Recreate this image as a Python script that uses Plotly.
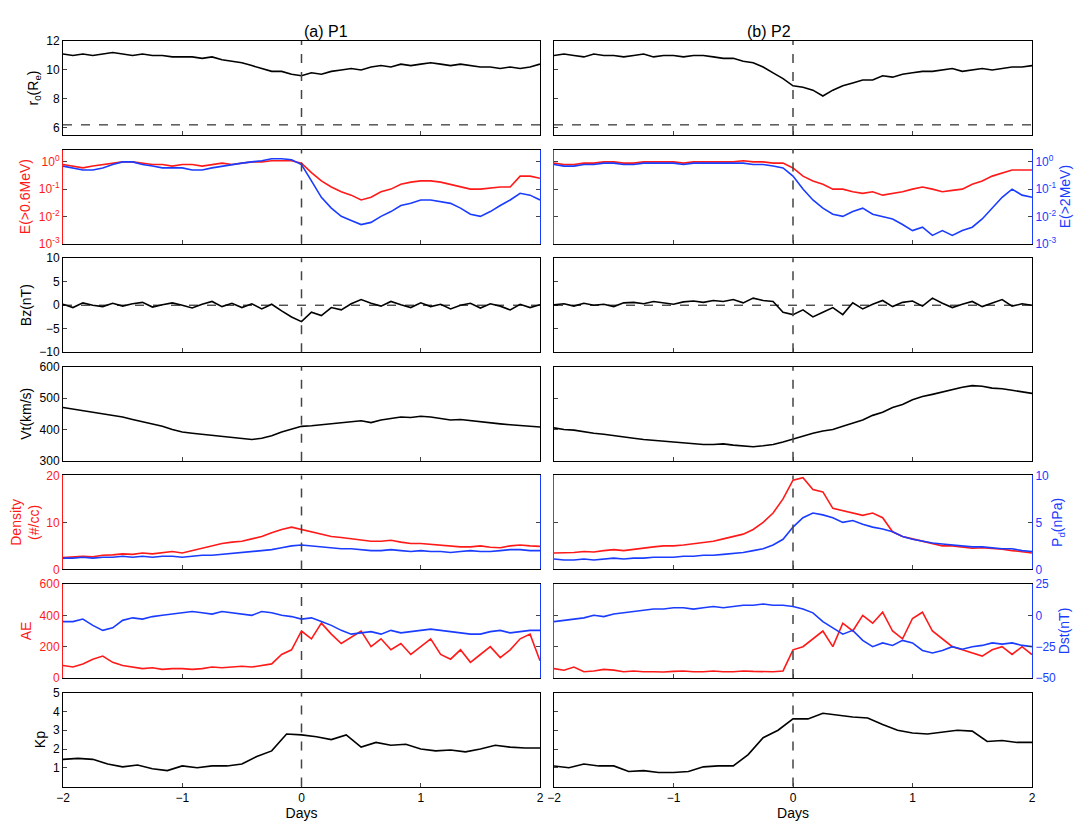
import numpy as np
import plotly.graph_objects as go

# values, step 1/12 day from -2 to 2 (Kp: 3-hourly)
r0_p1 = [11.1,11.0,11.1,11.0,11.1,11.2,11.1,11.0,11.1,11.0,11.0,10.9,10.9,10.9,10.8,10.9,10.7,10.6,10.5,10.3,10.1,9.9,9.9,9.7,9.6,9.8,9.7,9.9,10.0,10.1,10.0,10.2,10.3,10.2,10.4,10.3,10.4,10.5,10.4,10.3,10.4,10.3,10.2,10.2,10.1,10.2,10.1,10.2,10.4]
r0_p2 = [11.0,11.1,11.0,10.9,11.1,11.0,11.0,10.9,11.0,11.1,10.9,11.0,11.0,10.9,11.0,11.0,10.9,10.8,10.8,10.6,10.5,10.2,9.8,9.4,8.9,8.8,8.6,8.2,8.6,8.9,9.1,9.3,9.3,9.6,9.5,9.7,9.8,9.9,9.9,10.0,10.1,9.9,10.0,10.1,10.0,10.1,10.2,10.2,10.3]
e06_p1 = [0.8,0.7,0.6,0.7,0.8,0.9,1.0,1.0,0.9,0.8,0.8,0.7,0.8,0.8,0.7,0.8,0.9,0.8,0.9,1.0,1.0,1.1,1.1,1.1,0.9,0.4,0.2,0.12,0.08,0.06,0.04,0.05,0.08,0.1,0.15,0.18,0.2,0.2,0.18,0.15,0.12,0.1,0.1,0.11,0.12,0.12,0.3,0.3,0.25]
e2_p1 = [0.7,0.6,0.5,0.5,0.6,0.8,1.0,1.0,0.8,0.7,0.6,0.6,0.6,0.5,0.5,0.6,0.7,0.8,0.9,1.0,1.1,1.3,1.3,1.2,0.8,0.2,0.05,0.02,0.01,0.007,0.005,0.006,0.01,0.015,0.025,0.03,0.04,0.04,0.035,0.03,0.02,0.012,0.01,0.015,0.025,0.04,0.07,0.06,0.04]
e06_p2 = [0.9,0.8,0.8,0.9,0.9,1.0,1.0,0.9,0.9,1.0,1.0,1.0,1.0,0.9,1.0,1.0,1.0,1.0,1.0,1.1,1.0,1.0,0.9,0.9,0.6,0.3,0.2,0.15,0.1,0.1,0.08,0.07,0.08,0.06,0.07,0.08,0.1,0.12,0.1,0.08,0.09,0.1,0.15,0.2,0.3,0.4,0.5,0.5,0.5]
e2_p2 = [0.8,0.7,0.7,0.8,0.8,0.9,0.9,0.8,0.8,0.9,0.9,0.9,0.9,0.8,0.9,0.9,0.9,0.9,0.9,0.9,0.8,0.8,0.7,0.6,0.3,0.1,0.04,0.02,0.012,0.01,0.015,0.02,0.012,0.01,0.008,0.005,0.003,0.004,0.002,0.003,0.002,0.003,0.004,0.008,0.02,0.05,0.1,0.06,0.05]
bz_p1 = [0.2,-0.5,0.5,0,-0.3,0.4,-0.2,0.3,0.6,-0.4,0.1,0.5,0,-0.6,0.2,0.8,-0.3,0.4,-0.5,0.3,-0.8,0.2,-1.2,-2.5,-3.5,-1.5,-2.2,-0.5,-1.0,0.3,1.2,0.4,-0.2,0.8,0.1,-0.5,0.5,-0.3,0.2,-0.8,0.0,0.4,-0.6,0.3,-0.2,-1.0,0.2,-0.5,0.1]
bz_p2 = [0.1,0.3,-0.2,0.4,0.0,0.2,-0.3,0.5,0.6,0.3,0.8,0.5,0.2,0.7,0.9,0.6,1.0,0.8,1.2,0.5,1.5,1.0,0.8,-1.5,-2.0,-1.0,-2.5,-1.5,-0.5,-2.0,0.5,-0.8,0.2,1.0,-0.3,0.6,0.9,-0.2,1.5,0.4,-0.5,0.2,0.8,-0.3,0.5,1.2,-0.2,0.3,0.0]
vt_p1 = [470,465,462,455,450,445,440,432,425,418,410,400,392,388,385,380,378,376,372,368,372,380,392,402,410,412,415,418,420,425,428,422,430,435,440,438,442,440,435,430,432,428,425,420,418,415,412,410,408]
vt_p2 = [405,400,398,392,388,385,380,375,372,368,365,362,360,358,355,352,352,354,350,348,345,348,352,360,370,380,388,395,400,410,420,430,445,455,470,480,495,505,512,520,528,535,540,538,532,530,525,520,515]
dens_p1 = [2.5,2.6,2.8,2.7,3.0,3.1,3.3,3.2,3.5,3.3,3.6,3.8,3.5,4.0,4.5,5.0,5.5,5.8,6.0,6.5,7.0,7.8,8.5,9.0,8.5,8.0,7.5,7.0,6.8,6.5,6.2,6.0,6.0,6.2,5.8,5.5,5.5,5.3,5.2,5.0,4.8,4.8,5.0,4.7,4.6,5.0,5.2,5.0,4.9]
pd_p1 = [1.2,1.2,1.3,1.2,1.3,1.3,1.4,1.3,1.4,1.3,1.4,1.4,1.3,1.4,1.5,1.5,1.6,1.7,1.8,1.9,2.0,2.1,2.3,2.5,2.6,2.5,2.4,2.3,2.2,2.2,2.1,2.0,2.0,2.1,2.0,1.9,2.0,1.9,1.9,1.8,1.9,2.0,1.9,1.9,2.0,2.1,2.1,2.0,2.0]
dens_p2 = [3.5,3.5,3.6,3.8,3.7,4.0,4.2,4.0,4.3,4.5,4.8,5.0,5.0,5.2,5.5,5.8,6.0,6.5,7.0,7.5,8.5,10.0,12.0,15.0,19.0,19.5,17.0,16.5,13.0,12.5,12.0,11.5,12.0,11.0,8.0,7.0,6.5,6.0,5.5,5.0,5.0,4.8,4.5,4.6,4.5,4.3,4.0,3.8,3.5]
pd_p2 = [1.1,1.0,1.0,1.1,1.0,1.1,1.2,1.1,1.2,1.2,1.3,1.3,1.3,1.4,1.4,1.5,1.5,1.6,1.7,1.8,2.0,2.2,2.6,3.2,4.5,5.5,6.0,5.8,5.5,5.0,5.2,4.8,4.5,4.3,4.0,3.5,3.2,3.0,2.8,2.7,2.6,2.5,2.4,2.4,2.3,2.2,2.2,2.0,1.9]
ae_p1 = [80,70,90,120,140,100,80,70,60,65,55,60,60,55,60,70,65,70,75,70,80,90,150,180,300,250,350,280,220,260,300,200,250,180,220,150,200,250,150,120,180,100,150,200,130,180,250,280,110]
dst_p1 = [-5,-5,-3,-8,-12,-10,-4,-2,-3,-1,0,1,2,3,2,1,3,2,1,0,3,2,0,-1,-3,-2,-5,-8,-12,-15,-14,-13,-15,-12,-14,-13,-12,-11,-12,-13,-14,-15,-15,-13,-12,-14,-13,-12,-12]
ae_p2 = [60,50,70,40,45,55,50,40,45,40,40,38,42,45,40,40,45,40,40,45,42,40,40,45,180,200,250,300,200,350,300,400,350,420,300,250,380,420,300,250,200,180,160,140,180,200,150,200,150]
dst_p2 = [-5,-4,-3,-2,0,-1,1,2,3,4,5,5,6,6,5,6,7,6,7,8,8,9,8,8,7,5,2,-5,-10,-15,-12,-20,-25,-22,-24,-20,-22,-28,-30,-28,-25,-27,-25,-24,-22,-23,-22,-24,-25]
kp_p1 = [1.45,1.5,1.45,1.2,1.05,1.15,0.95,0.85,1.1,1.0,1.1,1.1,1.2,1.6,1.9,2.8,2.75,2.65,2.5,2.75,2.1,2.35,2.2,2.25,2.0,1.9,1.95,1.85,2.0,2.2,2.1,2.05,2.05]
kp_p2 = [1.1,1.0,1.2,1.1,1.1,0.8,0.85,0.75,0.75,0.8,1.05,1.1,1.1,1.7,2.6,3.0,3.6,3.6,3.9,3.8,3.7,3.65,3.3,3.0,2.85,2.8,2.9,3.0,2.95,2.4,2.45,2.35,2.35]

RED = "#ff1a1a"
BLUE = "#1a3cff"
W, H = 1089, 822
OFF = 7  # page body offset
cols_px = [(62 - OFF, 539 - OFF), (553 - OFF, 1031 - OFF)]
row_top = [33 + i * 108.6 for i in range(7)]
row_h = 94

def xs(v):
    return np.linspace(-2, 2, len(v))

def nm(k):
    return "" if k == 1 else str(k)

fig = go.Figure()
layout = dict(width=W, height=H, margin=dict(l=0, r=0, t=0, b=0, autoexpand=False),
              plot_bgcolor="white", paper_bgcolor="white", showlegend=False,
              font=dict(family="Liberation Sans, Arial", size=12, color="black"))
shapes = []
annotations = []

panels = [
    dict(l=(r0_p1, r0_p2), lc="black", ly=dict(range=[5.5, 12], tickvals=[6, 8, 10, 12]), lt="r<sub>0</sub>(R<sub>e</sub>)", hline=6.2),
    dict(l=(e06_p1, e06_p2), lc=RED, r=(e2_p1, e2_p2), rc=BLUE, log=True, lt="E(>0.6MeV)", rt="E(>2MeV)"),
    dict(l=(bz_p1, bz_p2), lc="black", ly=dict(range=[-10, 10], tickvals=[-10, -5, 0, 5, 10]), lt="Bz(nT)", hline=0),
    dict(l=(vt_p1, vt_p2), lc="black", ly=dict(range=[300, 600], tickvals=[300, 400, 500, 600]), lt="Vt(km/s)"),
    dict(l=(dens_p1, dens_p2), lc=RED, ly=dict(range=[0, 20], tickvals=[0, 10, 20]),
         r=(pd_p1, pd_p2), rc=BLUE, ry=dict(range=[0, 10], tickvals=[0, 5, 10]), lt="Density<br>(#/cc)", rt="P<sub>d</sub>(nPa)"),
    dict(l=(ae_p1, ae_p2), lc=RED, ly=dict(range=[0, 600], tickvals=[0, 200, 400, 600]),
         r=(dst_p1, dst_p2), rc=BLUE, ry=dict(range=[-50, 25], tickvals=[-50, -25, 0, 25]), lt="AE", rt="Dst(nT)"),
    dict(l=(kp_p1, kp_p2), lc="black", ly=dict(range=[0, 5], tickvals=[1, 2, 3, 4, 5]), lt="Kp"),
]

logcfg = dict(type="log", range=[-3, 0.45], tickvals=[1e-3, 1e-2, 1e-1, 1],
              ticktext=["10<sup>-3</sup>", "10<sup>-2</sup>", "10<sup>-1</sup>", "10<sup>0</sup>"])

sec = 15
for r, p in enumerate(panels):
    y1 = 1 - (row_top[r] + row_h) / H
    y0 = 1 - row_top[r] / H
    for c in range(2):
        k = r * 2 + c + 1
        n = nm(k)
        xd = [cols_px[c][0] / W, cols_px[c][1] / W]
        bottom = r == 6
        layout["xaxis" + n] = dict(domain=xd, anchor="y" + n, range=[-2, 2], showline=True, linecolor="black",
                                   mirror=True, ticks="inside", ticklen=4, tickvals=[-2, -1, 0, 1, 2],
                                   showticklabels=bottom, showgrid=False, zeroline=False, automargin=False,
                                   title=dict(text="Days", standoff=4) if bottom else None)
        has_r = "r" in p
        lcol = p["lc"]
        cfg = dict(logcfg) if p.get("log") else dict(p["ly"])
        cfg.update(domain=[y1, y0], anchor="x" + n, showline=True, linecolor=lcol,
                   mirror=False if has_r else True, ticks="inside", ticklen=4,
                   showticklabels=(c == 0), tickfont=dict(color=lcol), automargin=False,
                   showgrid=False, zeroline=False)
        if c == 0:
            cfg["title"] = dict(text=p["lt"], font=dict(color=lcol), standoff=4)
        layout["yaxis" + n] = cfg
        fig.add_trace(go.Scatter(x=xs(p["l"][c]), y=p["l"][c], mode="lines",
                                 line=dict(color=p["lc"], width=1.6), xaxis="x" + n, yaxis="y" + n))
        if has_r:
            rc = dict(logcfg) if p.get("log") else dict(p["ry"])
            rc.update(overlaying="y" + n, side="right", anchor="x" + n, showline=True, linecolor=BLUE,
                      ticks="inside", ticklen=4, showticklabels=(c == 1), tickfont=dict(color=BLUE),
                      showgrid=False, zeroline=False, automargin=False)
            if c == 1:
                rc["title"] = dict(text=p["rt"], font=dict(color=BLUE), standoff=4)
            layout[f"yaxis{sec}"] = rc
            fig.add_trace(go.Scatter(x=xs(p["r"][c]), y=p["r"][c], mode="lines",
                                     line=dict(color=BLUE, width=1.6), xaxis="x" + n, yaxis=f"y{sec}"))
            sec += 1
        shapes.append(dict(type="line", xref="x" + n, yref="y" + n + " domain", x0=0, x1=0, y0=0, y1=1,
                           line=dict(color="#444", width=1.5, dash="dash")))
        if "hline" in p:
            shapes.append(dict(type="line", xref="x" + n + " domain", yref="y" + n, x0=0, x1=1,
                               y0=p["hline"], y1=p["hline"], line=dict(color="black", width=1, dash="dash")))

for c, t in enumerate(["(a) P1", "(b) P2"]):
    annotations.append(dict(text=t, xref="paper", yref="paper", x=sum(cols_px[c]) / 2 / W,
                            y=1 - 13 / H, showarrow=False, font=dict(size=16)))

layout["shapes"] = shapes
layout["annotations"] = annotations
fig.update_layout(**layout)
fig.write_html("out.html")
